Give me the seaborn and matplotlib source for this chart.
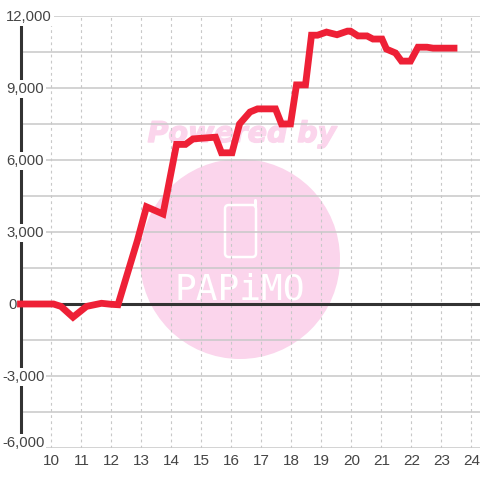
import matplotlib
matplotlib.use("Agg")
import matplotlib.pyplot as plt
import matplotlib.patheffects as pe
import seaborn as sns
import pandas as pd
from matplotlib.lines import Line2D
from matplotlib.patches import Circle, FancyBboxPatch
from matplotlib.transforms import blended_transform_factory, ScaledTranslation

hours = [9, 10.1, 10.35, 10.75, 11.2, 11.7, 12.0, 12.25, 12.9, 13.2, 13.75, 14.2, 14.5, 14.75, 15.5,
         15.7, 16.05, 16.3, 16.65, 16.9, 17.5, 17.7, 18.0, 18.2, 18.5, 18.7, 18.9, 19.2, 19.55,
         19.9, 20.0, 20.25, 20.55, 20.75, 21.05, 21.2, 21.5, 21.7, 22.0, 22.25, 22.55, 22.75, 23.45]
values = [0, 0, -100, -550, -100, 30, -10, -30, 2660, 4050, 3750, 6650, 6650, 6880, 6950,
          6300, 6300, 7500, 8000, 8130, 8130, 7500, 7500, 9130, 9130, 11200, 11200, 11330, 11220,
          11370, 11370, 11170, 11170, 11040, 11040, 10620, 10460, 10120, 10120, 10700, 10700, 10660, 10660]
x_ticks = list(range(10, 25))
y_labels = ["12,000", "9,000", "6,000", "3,000", "0", "-3,000", "-6,000"]
y_label_values = [12000, 9000, 6000, 3000, 0, -3000, -6000]

sns.set_style("white")
plt.rcParams['font.family'] = ['Liberation Sans', 'DejaVu Sans']

fig = plt.figure(figsize=(4.8, 4.8), dpi=100)
ax = fig.add_axes([20.5/480, 1-448/480, (480-20.5)/480, (448-16)/480])
ax.set_xlim(9, 9 + (480-20.5)/30)
ax.set_ylim(-6000, 12000)

# watermark
pink = "#FBD5EC"
ax.add_patch(Circle((240/480, 1-259/480), 100/480, transform=fig.transFigure, fc=pink, ec="none", zorder=0.1, clip_on=False))
ax.text(242/480, 1-134/480, "Powered by", transform=fig.transFigure, color=pink, fontsize=20.5,
        fontweight="bold", style="italic", family="DejaVu Sans", ha="center", va="center", zorder=0.1,
        path_effects=[pe.withStroke(linewidth=1.0, foreground=pink)])
ax.add_patch(FancyBboxPatch((225/480, 1-257/480), 31/480, 52/480, boxstyle="round,pad=0,rounding_size=0.008",
             transform=fig.transFigure, fc="none", ec="white", lw=1.8, zorder=0.2, clip_on=False))
ax.add_line(Line2D([255/480, 255/480], [1-206/480, 1-200/480], transform=fig.transFigure, color="white",
                   lw=2.2, zorder=0.2, clip_on=False))
ax.text(240/480, 1-289/480, "PAPiMO", transform=fig.transFigure, color="white", fontsize=26,
        family="DejaVu Sans Mono", ha="center", va="center", zorder=0.2)

ax.set_xticks(x_ticks)
ax.set_yticks(range(-6000, 12001, 1500))
ax.set_yticklabels([])
ax.tick_params(length=0, labelsize=11, labelcolor="#444444", pad=4)
for lab in ax.get_xticklabels():
    lab.set_transform(lab.get_transform() + ScaledTranslation(1/100, 0, fig.dpi_scale_trans))
ax.grid(axis="y", color="#c8c8c8", lw=1.1, zorder=0.5)
ax.grid(axis="x", color="#c8c8c8", lw=0.8, ls=(0, (2.5, 3)), zorder=0.5)
ax.set_axisbelow(True)
for s in ax.spines.values():
    s.set_visible(False)
ax.plot([9, 9], [-6000, 12000], color="#333333", lw=2.2, zorder=0.7, clip_on=False, solid_capstyle="butt")
ax.axhline(0, color="#333333", lw=2.2, zorder=0.7)

df = pd.DataFrame({"hour": hours, "value": values})
sns.lineplot(data=df, x="hour", y="value", color="#EE2036", lw=4.9, ax=ax, zorder=3,
             solid_joinstyle="miter", solid_capstyle="projecting", sort=False, errorbar=None, clip_on=False)
ax.set_xlabel("")
ax.set_ylabel("")

tr = blended_transform_factory(fig.transFigure, ax.transData)
x_left = {"12,000": 6, "9,000": 6, "6,000": 6, "3,000": 6, "0": 8, "-3,000": 2, "-6,000": 2}
y_off = {12000: -45, 9000: -45, 6000: -45, 3000: -45, 0: -40, -3000: -45, -6000: 220}
for lab, v in zip(y_labels, y_label_values):
    ax.text(x_left[lab]/480, v + y_off[v], lab, transform=tr, ha="left", va="center", fontsize=10.7,
            color="#444444", zorder=1.5, clip_on=False,
            bbox=dict(fc="white", ec="none", pad=1.5))
fig.savefig("out.png", dpi=100)
